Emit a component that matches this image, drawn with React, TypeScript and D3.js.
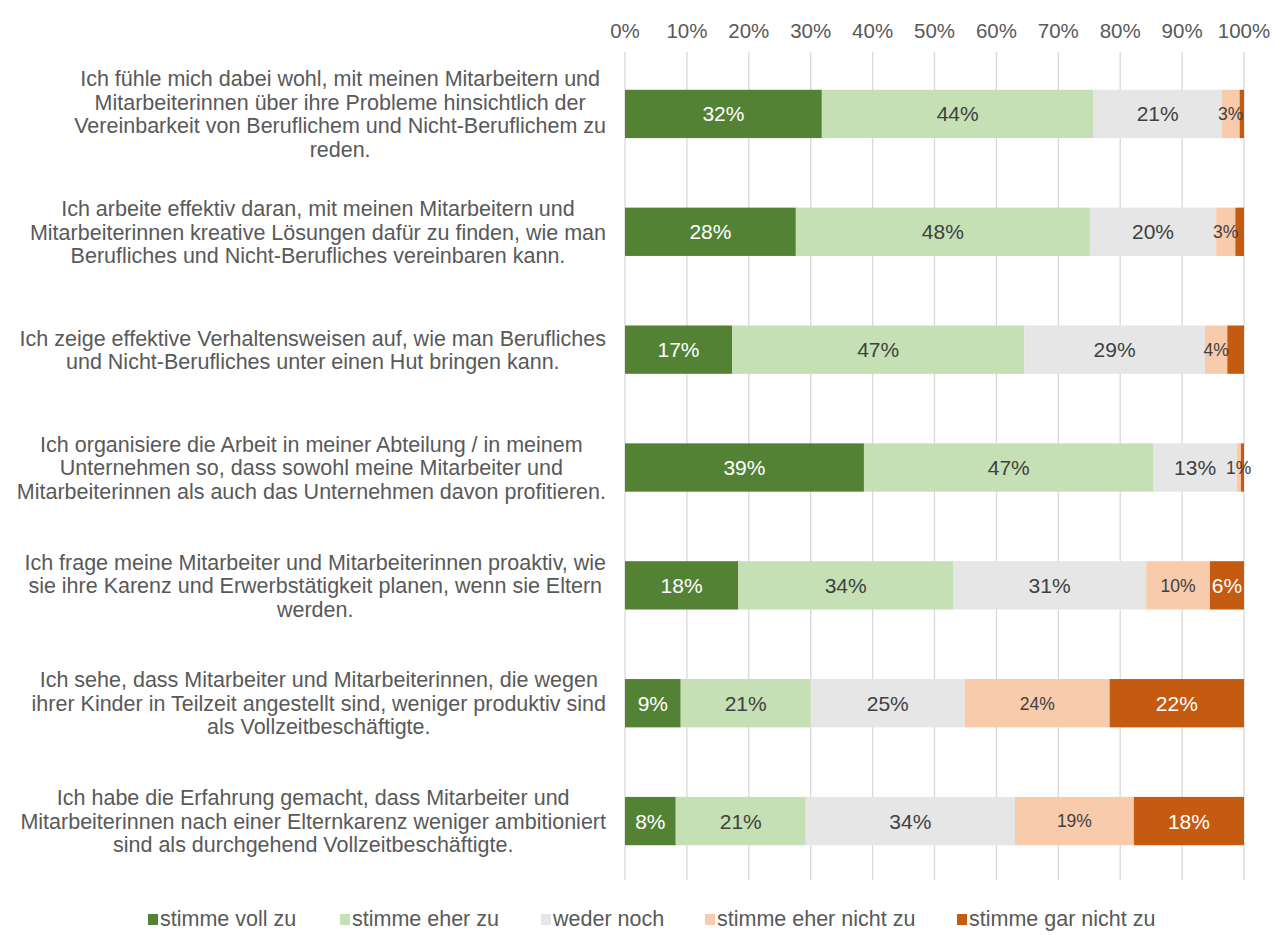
import React, { useEffect, useRef } from 'react';
import * as d3 from 'd3';

const categories = [
  ["Ich fühle mich dabei wohl, mit meinen Mitarbeitern und", "Mitarbeiterinnen über ihre Probleme hinsichtlich der", "Vereinbarkeit von Beruflichem und Nicht-Beruflichem zu", "reden."],
  ["Ich arbeite effektiv daran, mit meinen Mitarbeitern und", "Mitarbeiterinnen kreative Lösungen dafür zu finden, wie man", "Berufliches und Nicht-Berufliches vereinbaren kann."],
  ["Ich zeige effektive Verhaltensweisen auf, wie man Berufliches", "und Nicht-Berufliches unter einen Hut bringen kann."],
  ["Ich organisiere die Arbeit in meiner Abteilung / in meinem", "Unternehmen so, dass sowohl meine Mitarbeiter und", "Mitarbeiterinnen als auch das Unternehmen davon profitieren."],
  ["Ich frage meine Mitarbeiter und Mitarbeiterinnen proaktiv, wie", "sie ihre Karenz und Erwerbstätigkeit planen, wenn sie Eltern", "werden."],
  ["Ich sehe, dass Mitarbeiter und Mitarbeiterinnen, die wegen", "ihrer Kinder in Teilzeit angestellt sind, weniger produktiv sind", "als Vollzeitbeschäftigte."],
  ["Ich habe die Erfahrung gemacht, dass Mitarbeiter und", "Mitarbeiterinnen nach einer Elternkarenz weniger ambitioniert", "sind als durchgehend Vollzeitbeschäftigte."],
];

const seriesNames = ["stimme voll zu", "stimme eher zu", "weder noch", "stimme eher nicht zu", "stimme gar nicht zu"];
const seriesColors = ["#548235", "#C5E0B4", "#E6E6E6", "#F8CBAD", "#C55A11"];
const labelColors = ["#ffffff", "#404040", "#404040", "#404040", "#ffffff"];

const vollZu = [31.8, 27.6, 17.3, 38.6, 18.3, 9.0, 8.2];
const eherZu = [43.9, 47.5, 47.2, 46.8, 34.7, 21.0, 21.0];
const wederNoch = [20.7, 20.4, 29.2, 13.4, 31.2, 24.9, 33.8];
const eherNicht = [2.9, 3.1, 3.6, 0.7, 10.3, 23.4, 19.2];
const garNicht = [0.7, 1.4, 2.7, 0.5, 5.5, 21.7, 17.8];

const vollZuLabels = ["32%", "28%", "17%", "39%", "18%", "9%", "8%"];
const eherZuLabels = ["44%", "48%", "47%", "47%", "34%", "21%", "21%"];
const wederNochLabels = ["21%", "20%", "29%", "13%", "31%", "25%", "34%"];
const eherNichtLabels = ["3%", "3%", "4%", "1%", "10%", "24%", "19%"];
const garNichtLabels = ["", "", "", "", "6%", "22%", "18%"];

const xTicks = [0, 10, 20, 30, 40, 50, 60, 70, 80, 90, 100];

const W = 1274;
const H = 935;
const FONT = "'Liberation Sans', Arial, sans-serif";

const App = () => {
  const ref = useRef<SVGSVGElement>(null);

  useEffect(() => {
    const svg = d3.select(ref.current);
    svg.selectAll("*").remove();

    const values = [vollZu, eherZu, wederNoch, eherNicht, garNicht];
    const labels = [vollZuLabels, eherZuLabels, wederNochLabels, eherNichtLabels, garNichtLabels];

    const x = d3.scaleLinear().domain([0, 100]).range([625, 1244]);
    const y = d3.scaleBand<number>()
      .domain(d3.range(categories.length))
      .range([55, 880])
      .paddingInner(0.59)
      .paddingOuter(0.295);

    // gridlines
    svg.append("g").selectAll("line")
      .data(xTicks)
      .enter().append("line")
      .attr("x1", d => x(d)).attr("x2", d => x(d))
      .attr("y1", 52).attr("y2", 880)
      .attr("stroke", "#d9d9d9").attr("stroke-width", 1.3);

    // tick labels
    svg.append("g").selectAll("text")
      .data(xTicks)
      .enter().append("text")
      .attr("x", d => x(d)).attr("y", 38)
      .attr("text-anchor", "middle")
      .attr("font-family", FONT).attr("font-size", 20.5)
      .attr("fill", "#595959")
      .text(d => d + "%");

    // stacked segments
    const rows = categories.map((_, i) => {
      let acc = 0;
      return values.map((s, k) => {
        const x0 = acc;
        acc += s[i];
        return { row: i, k, x0, x1: acc, label: labels[k][i] };
      });
    });
    const segs = rows.flat();

    svg.append("g").selectAll("rect")
      .data(segs)
      .enter().append("rect")
      .attr("x", d => x(d.x0))
      .attr("width", d => Math.max(0, x(Math.min(100, d.x1)) - x(d.x0)))
      .attr("y", d => y(d.row)!)
      .attr("height", y.bandwidth())
      .attr("fill", d => seriesColors[d.k]);

    svg.append("g").selectAll("text")
      .data(segs.filter(d => d.label))
      .enter().append("text")
      .attr("x", d => x((d.x0 + Math.min(100, d.x1)) / 2))
      .attr("y", d => y(d.row)! + y.bandwidth() / 2)
      .attr("dy", "0.36em")
      .attr("text-anchor", "middle")
      .attr("font-family", FONT)
      .attr("font-size", d => d.k === 3 ? 17.5 : 21)
      .attr("fill", d => labelColors[d.k])
      .text(d => d.label);

    // category labels: lines centred within a block right-aligned to the axis
    const lineH = 23.5;
    categories.forEach((lines, i) => {
      const g = svg.append("g");
      const cy = y(i)! + y.bandwidth() / 2;
      const texts = g.selectAll("text")
        .data(lines)
        .enter().append("text")
        .attr("y", (_, j) => cy + (j - (lines.length - 1) / 2) * lineH)
        .attr("dy", "0.36em")
        .attr("font-family", FONT).attr("font-size", 21.5)
        .attr("fill", "#595959")
        .attr("text-anchor", "middle")
        .text(d => d);
      let maxW = 0;
      texts.each(function () {
        maxW = Math.max(maxW, (this as SVGTextElement).getComputedTextLength());
      });
      texts.attr("x", 606 - maxW / 2);
    });

    // legend
    const legendX = [148, 340, 541, 705, 957];
    const lg = svg.append("g").selectAll("g")
      .data(seriesNames)
      .enter().append("g")
      .attr("transform", (_, i) => `translate(${legendX[i]},926)`);
    lg.append("rect")
      .attr("x", 0).attr("y", -12)
      .attr("width", 10).attr("height", 11)
      .attr("fill", (_, i) => seriesColors[i]);
    lg.append("text")
      .attr("x", 12).attr("y", 0)
      .attr("font-family", FONT).attr("font-size", 21.5)
      .attr("fill", "#595959")
      .text(d => d);
  }, []);

  return (
    <svg ref={ref} width={W} height={H}
      style={{ position: "absolute", left: 0, top: 0, background: "#fff" }} />
  );
};

export default App;
